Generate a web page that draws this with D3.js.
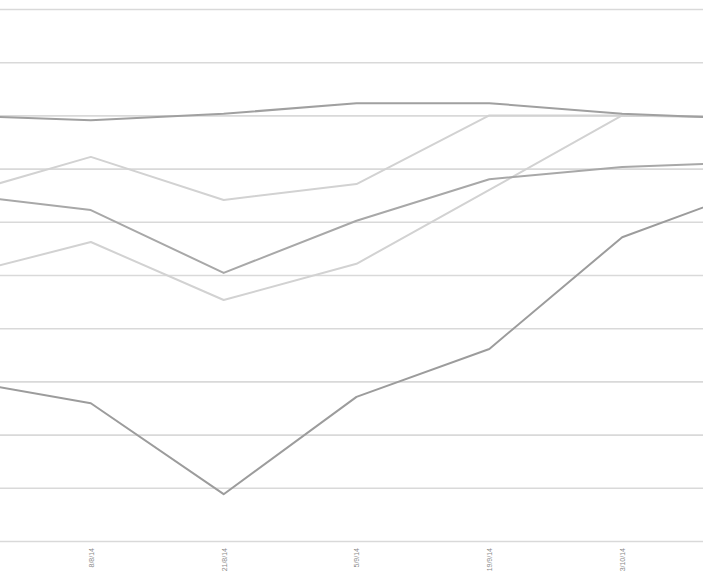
<!DOCTYPE html>
<html>
<head>
<meta charset="utf-8">
<script src="https://cdn.jsdelivr.net/npm/d3@7"></script>
<style>
  html, body { margin: 0; padding: 0; background: #fff; }
  svg { display: block; }
</style>
</head>
<body>
<div id="chart-area"></div>
<script>
// Dates (first and last sit just outside the cropped view)
const dates = ["25/7/14", "8/8/14", "21/8/14", "5/9/14", "19/9/14", "3/10/14", "17/10/14"];
const shownDates = dates.slice(1, 6);
const yTicks = [0, 1, 2, 3, 4, 5, 6, 7, 8, 9, 10];

// Series values
const seriesA = [8.0, 7.91, 8.03, 8.23, 8.23, 8.03, 7.93];
const seriesB = [6.5, 7.22, 6.41, 6.71, 8.0, 8.0, 7.97];
const seriesC = [6.52, 6.22, 5.04, 6.02, 6.80, 7.03, 7.12];
const seriesD = [4.98, 5.62, 4.53, 5.21, 6.60, 8.0, 7.95];
const seriesE = [3.03, 2.59, 0.88, 2.71, 3.61, 5.71, 6.63];

const chartWidth = 703, chartHeight = 585;

const svg = d3.select("#chart-area").append("svg")
  .attr("width", chartWidth)
  .attr("height", chartHeight);

svg.append("defs").append("clipPath").attr("id", "clip")
  .append("rect").attr("width", chartWidth).attr("height", chartHeight);

const xScale = d3.scalePoint().domain(dates).range([-42, 755]);
const yScale = d3.scaleLinear().domain([0, 10]).range([541, 9]);

// Horizontal gridlines
const grid = svg.append("g")
  .call(d3.axisLeft(yScale).tickValues(yTicks).tickSize(-chartWidth).tickFormat(""));
grid.select(".domain").remove();
grid.selectAll(".tick line")
  .attr("stroke", "#d9d9d9")
  .attr("stroke-width", 1.6);

// Rotated date labels
const xAxis = svg.append("g")
  .attr("transform", `translate(0, 548)`)
  .call(d3.axisBottom(xScale).tickValues(shownDates).tickSize(0).tickPadding(0));
xAxis.select(".domain").remove();
xAxis.selectAll("text")
  .attr("transform", "rotate(-90)")
  .attr("x", 0)
  .attr("y", 0)
  .attr("dy", "0.35em")
  .attr("text-anchor", "end")
  .attr("fill", "#8a8a8a")
  .style("font-family", "Liberation Sans, Arial, sans-serif")
  .style("font-size", "7px");

const line = d3.line()
  .x((d, i) => xScale(dates[i]))
  .y(d => yScale(d));

const series = [
  { values: seriesD, color: "#d2d2d2" },
  { values: seriesB, color: "#d2d2d2" },
  { values: seriesC, color: "#a8a8a8" },
  { values: seriesA, color: "#a0a0a0" },
  { values: seriesE, color: "#9c9c9c" }
];

svg.append("g").attr("clip-path", "url(#clip)")
  .selectAll(".series-line")
  .data(series)
  .join("path")
    .attr("class", "series-line")
    .attr("d", d => line(d.values))
    .attr("fill", "none")
    .attr("stroke", d => d.color)
    .attr("stroke-width", 2)
    .attr("stroke-linejoin", "round");
</script>
</body>
</html>
